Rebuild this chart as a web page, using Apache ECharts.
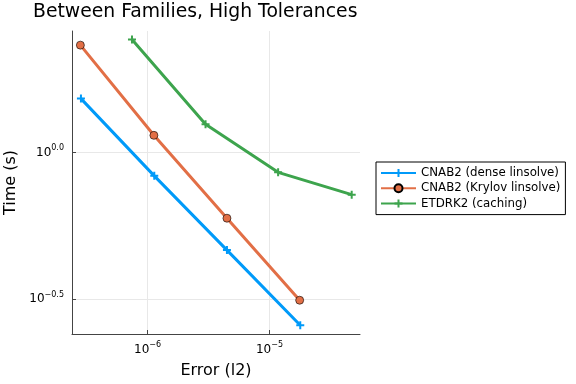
<!DOCTYPE html>
<html>
<head>
<meta charset="utf-8">
<script src="https://cdn.jsdelivr.net/npm/echarts@6/dist/echarts.min.js"></script>
<style>html,body{margin:0;padding:0;background:#fff}#c{width:576px;height:384px}</style>
</head>
<body>
<div id="c"></div>
<script>
const seriesNames = ['CNAB2 (dense linsolve)', 'CNAB2 (Krylov linsolve)', 'ETDRK2 (caching)'];
const denseErr = [2.84e-7, 1.135e-6, 4.48e-6, 1.79e-5];
const denseTime = [1.524, 0.832, 0.465, 0.258];
const krylovErr = [2.81e-7, 1.127e-6, 4.48e-6, 1.77e-5];
const krylovTime = [2.317, 1.143, 0.597, 0.314];
const etdErr = [7.45e-7, 2.99e-6, 1.178e-5, 4.73e-5];
const etdTime = [2.42, 1.247, 0.855, 0.718];
const xTicks = [1e-6, 1e-5];
const xTickLabels = ['−6', '−5'];
const yTicks = [Math.pow(10, -0.5), 1];
const yTickLabels = ['−0.5', '0.0'];

const colors = ['#009af9', '#e26f46', '#3da44d'];
const plus = 'path://M3,0H5V3H8V5H5V8H3V5H0V3H3Z';
const font = 'DejaVu Sans';

function pairs(xs, ys) { return xs.map((x, i) => [x, ys[i]]); }

const chart = echarts.init(document.getElementById('c'), null, {renderer: 'canvas'});
function supLabel(ticks, labels) {
  return function (v) {
    let best = 0, bd = Infinity;
    ticks.forEach((t, i) => { const d = Math.abs(Math.log10(t) - Math.log10(v)); if (d < bd) { bd = d; best = i; } });
    return '{b|10}{s|' + labels[best] + '}';
  };
}
const richStyle = {
  b: {fontSize: 12, fontFamily: font, color: '#000'},
  s: {fontSize: 8, fontFamily: font, color: '#000', padding: [0, 0, 9, 0]}
};
chart.setOption({
  animation: false,
  backgroundColor: '#fff',
  title: {
    text: 'Between Families, High Tolerances',
    left: 28, top: -2,
    textStyle: {fontFamily: font, fontSize: 18.8, fontWeight: 'normal', color: '#000'}
  },
  grid: {left: 72, right: 216, top: 31, bottom: 48, containLabel: false},
  xAxis: {
    type: 'log', logBase: 10,
    min: Math.pow(10, -6.62), max: Math.pow(10, -4.257),
    name: 'Error (l2)', nameLocation: 'middle', nameGap: 29,
    nameTextStyle: {fontFamily: font, fontSize: 16, color: '#000'},
    axisLine: {show: true, lineStyle: {color: '#444', width: 1}},
    axisTick: {show: true, inside: true, length: 4, customValues: xTicks, lineStyle: {color: '#444'}},
    axisLabel: {customValues: xTicks, formatter: supLabel(xTicks, xTickLabels), rich: richStyle, margin: 7},
    splitLine: {show: true, lineStyle: {color: '#e8e8e8', width: 1}},
    minorTick: {show: false}
  },
  yAxis: {
    type: 'log', logBase: 10,
    min: Math.pow(10, -0.618), max: Math.pow(10, 0.413),
    name: 'Time (s)', nameLocation: 'middle', nameGap: 53, nameRotate: 90,
    nameTextStyle: {fontFamily: font, fontSize: 16, color: '#000'},
    axisLine: {show: true, lineStyle: {color: '#444', width: 1}},
    axisTick: {show: true, inside: true, length: 4, customValues: yTicks, lineStyle: {color: '#444'}},
    axisLabel: {customValues: yTicks, formatter: supLabel(yTicks, yTickLabels), rich: richStyle, margin: 8},
    splitLine: {show: true, lineStyle: {color: '#e8e8e8', width: 1}}
  },
  legend: {
    orient: 'vertical', left: 376, top: 162,
    padding: [5, 5, 5, 4],
    itemWidth: 35, itemHeight: 10, itemGap: 3.3,
    borderColor: '#000', borderWidth: 1,
    textStyle: {fontFamily: font, fontSize: 11.8, color: '#000'},
    data: seriesNames
  },
  series: [
    {name: seriesNames[0], type: 'line', data: pairs(denseErr, denseTime), color: colors[0],
     lineStyle: {width: 3}, symbol: plus, symbolSize: 8, itemStyle: {color: colors[0]}},
    {name: seriesNames[1], type: 'line', data: pairs(krylovErr, krylovTime), color: colors[1],
     lineStyle: {width: 3}, symbol: 'circle', symbolSize: 8, itemStyle: {color: colors[1], borderColor: '#000', borderWidth: 0.6}},
    {name: seriesNames[2], type: 'line', data: pairs(etdErr, etdTime), color: colors[2],
     lineStyle: {width: 3}, symbol: plus, symbolSize: 8, itemStyle: {color: colors[2]}}
  ]
});
</script>
</body>
</html>
